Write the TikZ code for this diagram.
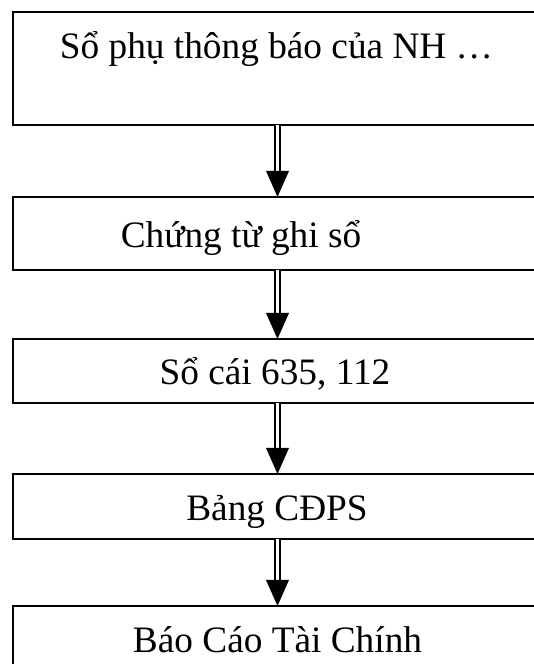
\documentclass[tikz,border=0pt]{standalone}
\usepackage{fontspec}
\setmainfont{Liberation Serif}
\begin{document}
\begin{tikzpicture}[x=1pt,y=1pt,
  box/.style={draw, line width=1.8pt, minimum width=529pt, inner sep=0pt,
              outer sep=0pt, anchor=north west},
  caption/.style={anchor=base, inner sep=0pt, font=\fontsize{37.3}{42}\selectfont},
  shaft/.style={draw, double, double distance=3.4pt, line width=1.5pt},
  head/.style={fill=black}]
\useasboundingbox (0,0) rectangle (533,664);

% boxes of the flow, top to bottom
\node[box, minimum height=113pt] (b1) at (13,652) {};
\node[box, minimum height=73pt]  (b2) at (13,467) {};
\node[box, minimum height=64pt]  (b3) at (13,325) {};
\node[box, minimum height=65pt]  (b4) at (13,190) {};
\node[box, minimum height=80pt]  (b5) at (13,58)  {};

% box texts
\node[caption] (t1) at (276.5,605) {Sổ phụ thông báo của NH …};
\node[caption] (t2) at (241,416)   {Chứng từ ghi sổ};
\node[caption] (t3) at (275,279)   {Sổ cái 635, 112};
\node[caption] (t4) at (277,143)   {Bảng CĐPS};
\node[caption] (t5) at (277.5,12)  {Báo Cáo Tài Chính};

% double-line arrows between consecutive boxes
\foreach \a/\b in {b1/b2, b2/b3, b3/b4, b4/b5}{
  \draw[shaft] (\a.south) -- ([yshift=26pt]\b.north);
  \fill[head] (\b.north) -- ++(-11.5,26) -- ++(23,0) -- cycle;
}
\end{tikzpicture}
\end{document}
